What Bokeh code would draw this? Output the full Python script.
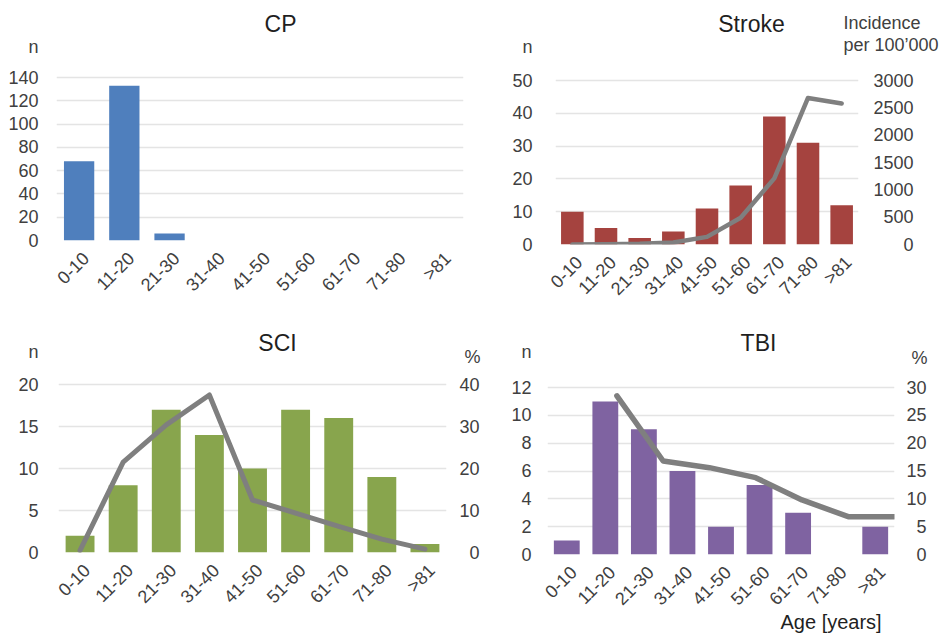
import math

from bokeh.embed import file_html
from bokeh.layouts import column, row
from bokeh.models import FixedTicker, Label, LinearAxis, Range1d, Title
from bokeh.plotting import figure
from bokeh.resources import INLINE

# ---- data -------------------------------------------------------------
age_groups = ["0-10", "11-20", "21-30", "31-40", "41-50", "51-60", "61-70", "71-80", ">81"]

cp_n = [68, 133, 6, 0, 0, 0, 0, 0, 0]

stroke_n = [10, 5, 2, 4, 11, 18, 39, 31, 12]
stroke_incidence = [2, 5, 12, 35, 140, 490, 1210, 2680, 2580]

sci_n = [2, 8, 17, 14, 10, 17, 16, 9, 1]
sci_pct = [0.5, 21.5, 30.4, 37.5, 12.5, 9.4, 6.2, 3.2, 0.8]

tbi_n = [1, 11, 9, 6, 2, 5, 3, 0, 2]
tbi_pct_age = [18, 30, 42, 54, 66, 78, 90]   # mid-age of each reference group, years
tbi_pct = [28.5, 16.8, 15.6, 13.8, 9.8, 6.8, 6.8]

# ---- style ------------------------------------------------------------
FONT = "Liberation Sans"
TICK_COLOR = "#404040"
TEXT_COLOR = "#1f1f1f"
GRID_COLOR = "#e4e4e4"
LINE_COLOR = "#7f7f7f"
TICK_SIZE = "18px"
NBSP = "\u00a0"

N_CAT = len(age_groups)
centers = [i + 0.5 for i in range(N_CAT)]


class Panel:
    """One bar chart. The plot frame reaches up to the top of its canvas so the
    heading sits inside it; the value axis stops at y_max."""

    def __init__(self, counts, color, y_max, y_step, geom, left_standoff):
        self.left, self.fw, self.right, self.top, self.fh, self.bottom = geom
        self.y_max = y_max
        self.frame_bottom = self.top + self.fh
        y_end = y_max * self.frame_bottom / self.fh

        p = figure(
            title=None,
            frame_width=self.fw, frame_height=self.frame_bottom,
            min_border_left=self.left, min_border_right=self.right,
            min_border_top=0, min_border_bottom=self.bottom,
            x_range=Range1d(0, N_CAT), y_range=Range1d(0, y_end),
            output_backend="svg", toolbar_location=None,
        )
        p.outline_line_color = None
        p.background_fill_color = "white"
        p.border_fill_color = "white"
        self.p = p

        self.yticks = list(range(0, y_max + 1, y_step))
        p.ygrid.ticker = FixedTicker(ticks=self.yticks)
        p.ygrid.grid_line_color = GRID_COLOR
        p.ygrid.grid_line_width = 1.5
        p.xgrid.grid_line_color = None

        # category labels hang from a point a little right of each bar centre
        shift = 7 / self.fw * N_CAT
        xt = [round(c + shift, 4) for c in centers]
        p.xaxis.ticker = FixedTicker(ticks=xt)
        p.xaxis.major_label_overrides = {t: g for t, g in zip(xt, age_groups)}
        p.xaxis.major_label_orientation = math.pi / 4
        p.xaxis.major_label_standoff = 9

        for ax in p.xaxis + p.yaxis:
            self._style_axis(ax)
        p.yaxis.major_label_standoff = left_standoff

        p.vbar(x=centers, top=counts, width=0.67, fill_color=color, line_color=None)

    @staticmethod
    def _style_axis(ax):
        ax.axis_line_color = None
        ax.major_tick_line_color = None
        ax.minor_tick_line_color = None
        ax.major_label_text_font = FONT
        ax.major_label_text_font_size = TICK_SIZE
        ax.major_label_text_color = TICK_COLOR

    def y_at(self, sy, scale=1.0):
        """Data value (left scale, optionally rescaled) at a canvas row."""
        return round((self.frame_bottom - sy) / self.fh * self.y_max * scale, 3)

    def unit_label(self, sy, text):
        """Put the unit of the count axis above its numbers."""
        t = self.y_at(sy)
        ax = self.p.yaxis[0]
        ax.ticker = FixedTicker(ticks=self.yticks + [t])
        ax.major_label_overrides = {t: text}

    def right_axis(self, r_max, r_step, standoff, extra, pad_to=None):
        scale = r_max / self.y_max
        r_end = r_max * self.frame_bottom / self.fh
        self.p.extra_y_ranges = {"right": Range1d(0, r_end)}
        rticks = list(range(0, r_max + 1, r_step))
        labels = [str(t) for t in rticks]
        width = pad_to if pad_to is not None else max(len(s) for s in labels)
        # right-align the numbers: two no-break spaces are as wide as one digit
        overrides = {t: NBSP * round(2 * (width - len(s))) + s for t, s in zip(rticks, labels)}
        ticks = list(rticks)
        for sy, text in extra:
            t = self.y_at(sy, scale)
            ticks.append(t)
            overrides[t] = text
        ax = LinearAxis(y_range_name="right", ticker=FixedTicker(ticks=ticks))
        ax.major_label_overrides = overrides
        self._style_axis(ax)
        ax.major_label_standoff = standoff
        self.p.add_layout(ax, "right")
        return scale

    def heading(self, sx, sy, text, size="23px"):
        x = (sx - self.left) / self.fw * N_CAT
        self.p.add_layout(Label(x=x, y=self.y_at(sy), text=text, text_font=FONT,
                                text_font_size=size, text_color=TEXT_COLOR,
                                text_align="center", text_baseline="middle"))


# ---- CP ---------------------------------------------------------------
cp = Panel(cp_n, "#4f7fbd", 140, 20, (56, 407, 7, 77, 163, 78), 12)
cp.unit_label(47, "n")
cp.heading(280, 23, "CP")

# ---- Stroke -----------------------------------------------------------
st = Panel(stroke_n, "#a5433f", 50, 10, (85, 303, 87, 80, 164, 74), 17)
st.unit_label(47, "n")
st.right_axis(3000, 500, -21, [(23, "Incidence"), (45, "per 100\u2019000")], pad_to=7)
st.p.line(x=centers, y=stroke_incidence, y_range_name="right", line_color=LINE_COLOR,
          line_width=4.5, line_join="round", line_cap="round")
st.heading(751 - 470, 23, "Stroke")

# ---- SCI --------------------------------------------------------------
sci = Panel(sci_n, "#88a54d", 20, 5, (58, 388, 54, 66, 168, 84), 14)
sci.unit_label(34, "n")
sci.right_axis(40, 10, 7, [(39, NBSP + "%")])
sci.p.line(x=centers, y=sci_pct, y_range_name="right", line_color=LINE_COLOR,
           line_width=5, line_join="round", line_cap="round")
sci.heading(277, 25, "SCI")

# ---- TBI --------------------------------------------------------------
tbi = Panel(tbi_n, "#7f63a1", 12, 2, (47, 347, 51, 69, 167, 82), 10)
tbi.unit_label(34, "n")
tbi.right_axis(30, 5, 6, [(39, NBSP + "%")])
tbi.p.line(x=[a / 10 for a in tbi_pct_age], y=tbi_pct, y_range_name="right",
           line_color=LINE_COLOR, line_width=5.5, line_join="round", line_cap="round")
tbi.heading(758 - 500, 25, "TBI")
tbi.p.add_layout(Title(text="Age [years]", align="left", offset=233, standoff=-21,
                       text_font=FONT, text_font_size="20px", text_font_style="normal",
                       text_color=TEXT_COLOR), "below")

layout = column(row(cp.p, st.p), row(sci.p, tbi.p))

with open("out.html", "w") as f:
    f.write(file_html(layout, INLINE))
